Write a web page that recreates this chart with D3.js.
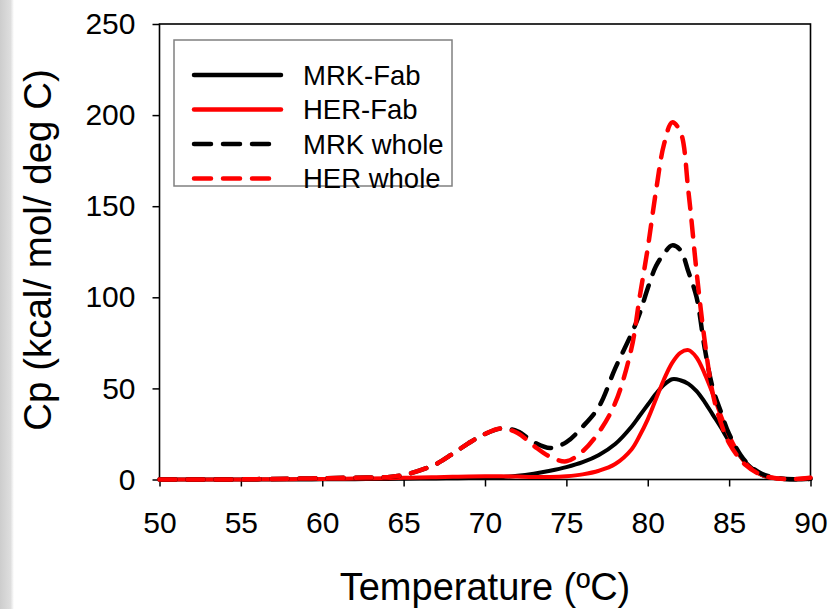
<!DOCTYPE html>
<html>
<head>
<meta charset="utf-8">
<title>Cp vs Temperature</title>
<script src="https://d3js.org/d3.v7.min.js"></script>
<style>
  body { margin: 0; background: #fff; }
  text { font-family: "Liberation Sans", Arial, sans-serif; fill: #000; }
</style>
</head>
<body>
<div id="chart"></div>
<script>
// temperatures (deg C) shared by all four curves
var temps = [50, 52, 54, 56, 58, 60, 62, 64, 65, 66, 67, 68, 69, 70, 71, 72, 73, 74, 75, 76,
             77, 78, 79, 79.5, 80, 80.5, 81, 81.5, 82, 82.5, 83, 83.5, 84, 84.5, 85, 86, 87, 88, 89, 90];

// Cp values (kcal/mol/deg C)
var mrkFab = [0, 0, 0, 0, 0, 0.1, 0.2, 0.3, 0.4, 0.5, 0.6, 0.7, 0.8, 1.0, 1.3, 2.0, 3.2, 4.8, 6.8, 9.5,
              13.5, 19.5, 29, 35, 41, 47, 52, 55, 54.5, 52.5, 48.5, 42.5, 35.5, 28.5, 21, 9.5, 2.5, 0.5, 0, 0.3];
var herFab = [0, 0, 0, 0.1, 0.2, 0.3, 0.5, 0.7, 0.9, 1.1, 1.3, 1.5, 1.7, 1.8, 1.8, 1.6, 1.4, 1.4, 1.8, 2.8,
              4.8, 8.5, 16.5, 24, 33, 44, 55, 64, 69.5, 71, 67, 58, 47, 35, 24, 9, 2.5, 0.5, 0.3, 1.0];
var mrkWhole = [0, 0, 0, 0.2, 0.4, 0.7, 1.0, 1.3, 2.5, 5, 8.5, 14, 20, 25, 28, 26.5, 20.5, 17.3, 20.5, 29,
                40, 61, 80, 91, 105, 117, 124, 128.5, 126, 114, 100, 72, 50, 37, 25, 10, 3.2, 0.7, 0.1, 0.4];
var herWhole = [0, 0, 0, 0.2, 0.4, 0.7, 1.0, 1.3, 2.5, 5, 8.5, 14, 20, 25, 28, 25.5, 18.5, 12.5, 10, 15.5,
                26, 42, 72, 100, 127, 158, 184, 196, 191, 158, 114, 76, 47, 31, 20, 8, 2.5, 0.5, 0.2, 1.0];

var seriesNames = ["MRK-Fab", "HER-Fab", "MRK whole", "HER whole"];
var seriesColors = ["#000000", "#ff0000", "#000000", "#ff0000"];
var seriesDashed = [false, false, true, true];
var seriesValues = [mrkFab, herFab, mrkWhole, herWhole];

var xTicks = [50, 55, 60, 65, 70, 75, 80, 85, 90];
var yTicks = [0, 50, 100, 150, 200, 250];

var W = 832, H = 609;
var margin = {top: 24, right: 21.5, bottom: 129.5, left: 159.5};
var plotW = W - margin.left - margin.right,
    plotH = H - margin.top - margin.bottom;

var root = d3.select("#chart")
  .append("svg")
    .attr("width", W)
    .attr("height", H);

// faint grey strip on the left edge
var grad = root.append("defs").append("linearGradient")
    .attr("id", "edge").attr("x1", 0).attr("x2", 1).attr("y1", 0).attr("y2", 0);
grad.append("stop").attr("offset", "0%").attr("stop-color", "#cdcdcd");
grad.append("stop").attr("offset", "75%").attr("stop-color", "#dedede");
grad.append("stop").attr("offset", "100%").attr("stop-color", "#ffffff");
root.append("rect").attr("x", 0).attr("y", 0).attr("width", 14).attr("height", H)
    .attr("fill", "url(#edge)");

var svg = root.append("g")
    .attr("transform", "translate(" + margin.left + "," + margin.top + ")");

var x = d3.scaleLinear().domain([50, 90]).range([0, plotW]);
var y = d3.scaleLinear().domain([0, 250]).range([plotH, 0]);

// axes
var gx = svg.append("g")
    .attr("transform", "translate(0," + plotH + ")")
    .call(d3.axisBottom(x).tickValues(xTicks).tickSize(7).tickSizeOuter(0).tickPadding(25));
var gy = svg.append("g")
    .call(d3.axisLeft(y).tickValues(yTicks).tickSize(7).tickSizeOuter(0).tickPadding(17));

[gx, gy].forEach(function(g) {
  g.select(".domain").remove();
  g.attr("font-family", null).attr("font-size", null);
  g.selectAll(".tick line").attr("stroke", "#000").attr("stroke-width", 1.5);
  g.selectAll(".tick text").style("font-size", "30px").attr("fill", "#000");
});

// frame
svg.append("rect")
    .attr("x", 0).attr("y", 0)
    .attr("width", plotW).attr("height", plotH)
    .attr("fill", "none")
    .attr("stroke", "#000")
    .attr("stroke-width", 1.6);

// curves
var line = d3.line()
    .x(function(d) { return x(d[0]); })
    .y(function(d) { return y(d[1]); })
    .curve(d3.curveCatmullRom.alpha(0.5));

seriesValues.forEach(function(vals, i) {
  var pts = temps.map(function(t, j) { return [t, vals[j]]; });
  svg.append("path")
      .datum(pts)
      .attr("d", line)
      .attr("fill", "none")
      .attr("stroke", seriesColors[i])
      .attr("stroke-width", seriesDashed[i] ? 4.5 : 4)
      .attr("stroke-linecap", "round")
      .attr("stroke-dasharray", seriesDashed[i] ? "16,12" : null);
});

// legend
var legend = root.append("g");
legend.append("rect")
    .attr("x", 174).attr("y", 40)
    .attr("width", 278).attr("height", 146)
    .attr("fill", "#fff")
    .attr("stroke", "#808080")
    .attr("stroke-width", 1.5);

seriesNames.forEach(function(name, i) {
  var ry = 75 + i * 34.5;
  legend.append("line")
      .attr("x1", 194).attr("x2", 281)
      .attr("y1", ry).attr("y2", ry)
      .attr("stroke", seriesColors[i])
      .attr("stroke-width", 4.5)
      .attr("stroke-linecap", "round")
      .attr("stroke-dasharray", seriesDashed[i] ? "17,12" : null);
  legend.append("text")
      .attr("x", 303).attr("y", ry)
      .attr("dy", "0.35em")
      .style("font-size", "27.5px")
      .text(name);
});

// axis titles
root.append("text")
    .attr("x", margin.left + plotW / 2)
    .attr("y", 600)
    .attr("text-anchor", "middle")
    .style("font-size", "38px")
    .text("Temperature (ºC)");

root.append("text")
    .attr("transform", "translate(51,250) rotate(-90)")
    .attr("text-anchor", "middle")
    .style("font-size", "38.5px")
    .text("Cp (kcal/ mol/ deg C)");
</script>
</body>
</html>
